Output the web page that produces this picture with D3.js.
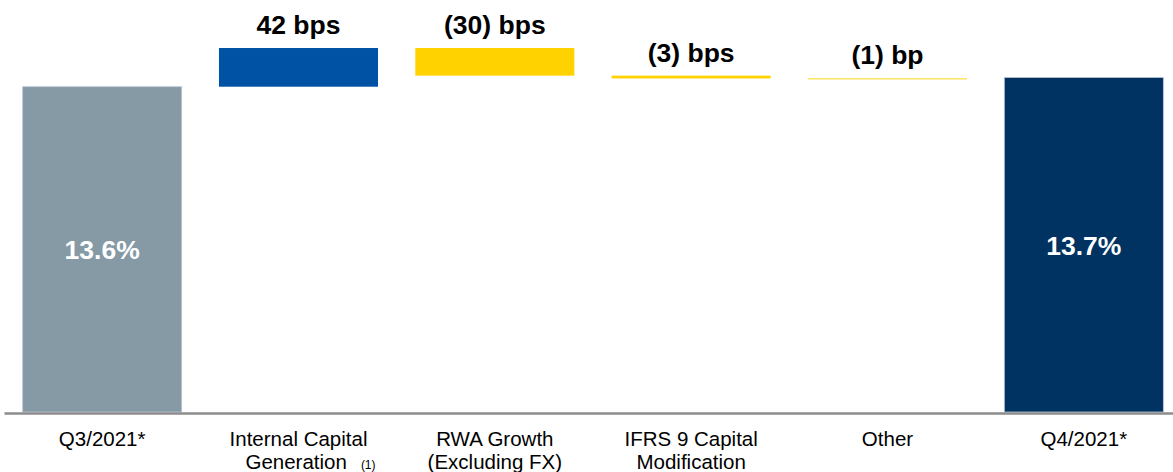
<!DOCTYPE html>
<html>
<head>
<meta charset="utf-8">
<script src="https://cdn.jsdelivr.net/npm/d3@7"></script>
<style>
  html, body { margin: 0; padding: 0; background: #fff; }
  svg { display: block; font-family: "Liberation Sans", Arial, Helvetica, sans-serif; }
</style>
</head>
<body>
<svg id="chart" width="1173" height="472"></svg>
<script>
// CET1 ratio walk, Q3/2021 to Q4/2021
const categories = ["Q3/2021*", "Internal Capital Generation", "RWA Growth (Excluding FX)",
                    "IFRS 9 Capital Modification", "Other", "Q4/2021*"];
const categoryLines = [["Q3/2021*"], ["Internal Capital", "Generation"], ["RWA Growth", "(Excluding FX)"],
                       ["IFRS 9 Capital", "Modification"], ["Other"], ["Q4/2021*"]];
const categoryNotes = ["", "(1)", "", "", "", ""];
const startRatio = 13.6;            // %
const changesBps = [42, -30, -3, -1]; // basis points
const endRatio = 13.7;              // %
const barColors = ["#869AA6", "#0052A5", "#FFD200", "#FFD200", "#FFD200", "#003361"];

const svg = d3.select("#chart");
const baselineY = 412;

// Build the waterfall segments
let level = startRatio;
const bars = [{ cat: categories[0], from: 10.07, to: startRatio, total: true, value: startRatio }];
changesBps.forEach((bps, i) => {
  const next = level + bps / 100;
  bars.push({ cat: categories[i + 1], from: level, to: next, total: false, value: bps });
  level = next;
});
bars.push({ cat: categories[5], from: 10.07, to: endRatio, total: true, value: endRatio });

const x = d3.scaleBand()
  .domain(categories)
  .range([4, 1182])
  .paddingInner(0.19)
  .paddingOuter(0.095);

const y = d3.scaleLinear()
  .domain([10.07, 14.4])
  .range([baselineY, 13]);

// Bars
svg.append("g").selectAll("rect")
  .data(bars)
  .join("rect")
  .attr("x", d => x(d.cat))
  .attr("width", x.bandwidth())
  .attr("y", d => y(Math.max(d.from, d.to)))
  .attr("height", d => Math.abs(y(d.from) - y(d.to)))
  .attr("fill", (d, i) => barColors[i])
  .attr("stroke", d => d.total ? "#b9c6d2" : "none")
  .attr("stroke-width", d => d.total ? 0.8 : 0);

// Change labels above the floating bars
const fmtBps = v => {
  const unit = Math.abs(v) === 1 ? "bp" : "bps";
  return v < 0 ? `(${Math.abs(v)}) ${unit}` : `${v} ${unit}`;
};
svg.append("g").selectAll("text")
  .data(bars.filter(d => !d.total))
  .join("text")
  .attr("x", d => x(d.cat) + x.bandwidth() / 2)
  .attr("y", d => y(Math.max(d.from, d.to)) - 14)
  .attr("text-anchor", "middle")
  .attr("font-size", 26.5)
  .attr("font-weight", "bold")
  .attr("fill", "#000")
  .text(d => fmtBps(d.value));

// Ratio labels inside the total bars
svg.append("g").selectAll("text")
  .data(bars.filter(d => d.total))
  .join("text")
  .attr("x", d => x(d.cat) + x.bandwidth() / 2)
  .attr("y", d => (y(d.to) + y(d.from)) / 2)
  .attr("dy", "0.37em")
  .attr("text-anchor", "middle")
  .attr("font-size", 26.5)
  .attr("font-weight", "bold")
  .attr("fill", "#fff")
  .text(d => d3.format(".1f")(d.value) + "%");

// Category axis
const axis = svg.append("g")
  .attr("transform", `translate(0,${baselineY + 1})`)
  .call(d3.axisBottom(x).tickSize(0).tickFormat(""));
axis.select(".domain").attr("stroke", "#8c8c8c").attr("stroke-width", 2.5);

axis.selectAll(".tick").each(function (cat) {
  const i = categories.indexOf(cat);
  const t = d3.select(this).append("text")
    .attr("fill", "#000")
    .attr("font-size", 20.5)
    .attr("text-anchor", "middle")
    .attr("y", 33);
  categoryLines[i].forEach((line, j) => {
    const isLast = j === categoryLines[i].length - 1;
    const hasNote = isLast && categoryNotes[i];
    t.append("tspan").attr("x", hasNote ? 12 : 0).attr("dy", j === 0 ? 0 : 23).text(line);
    if (hasNote) {
      t.append("tspan").attr("font-size", 12).attr("dx", 14).text(categoryNotes[i]);
    }
  });
});
</script>
</body>
</html>
